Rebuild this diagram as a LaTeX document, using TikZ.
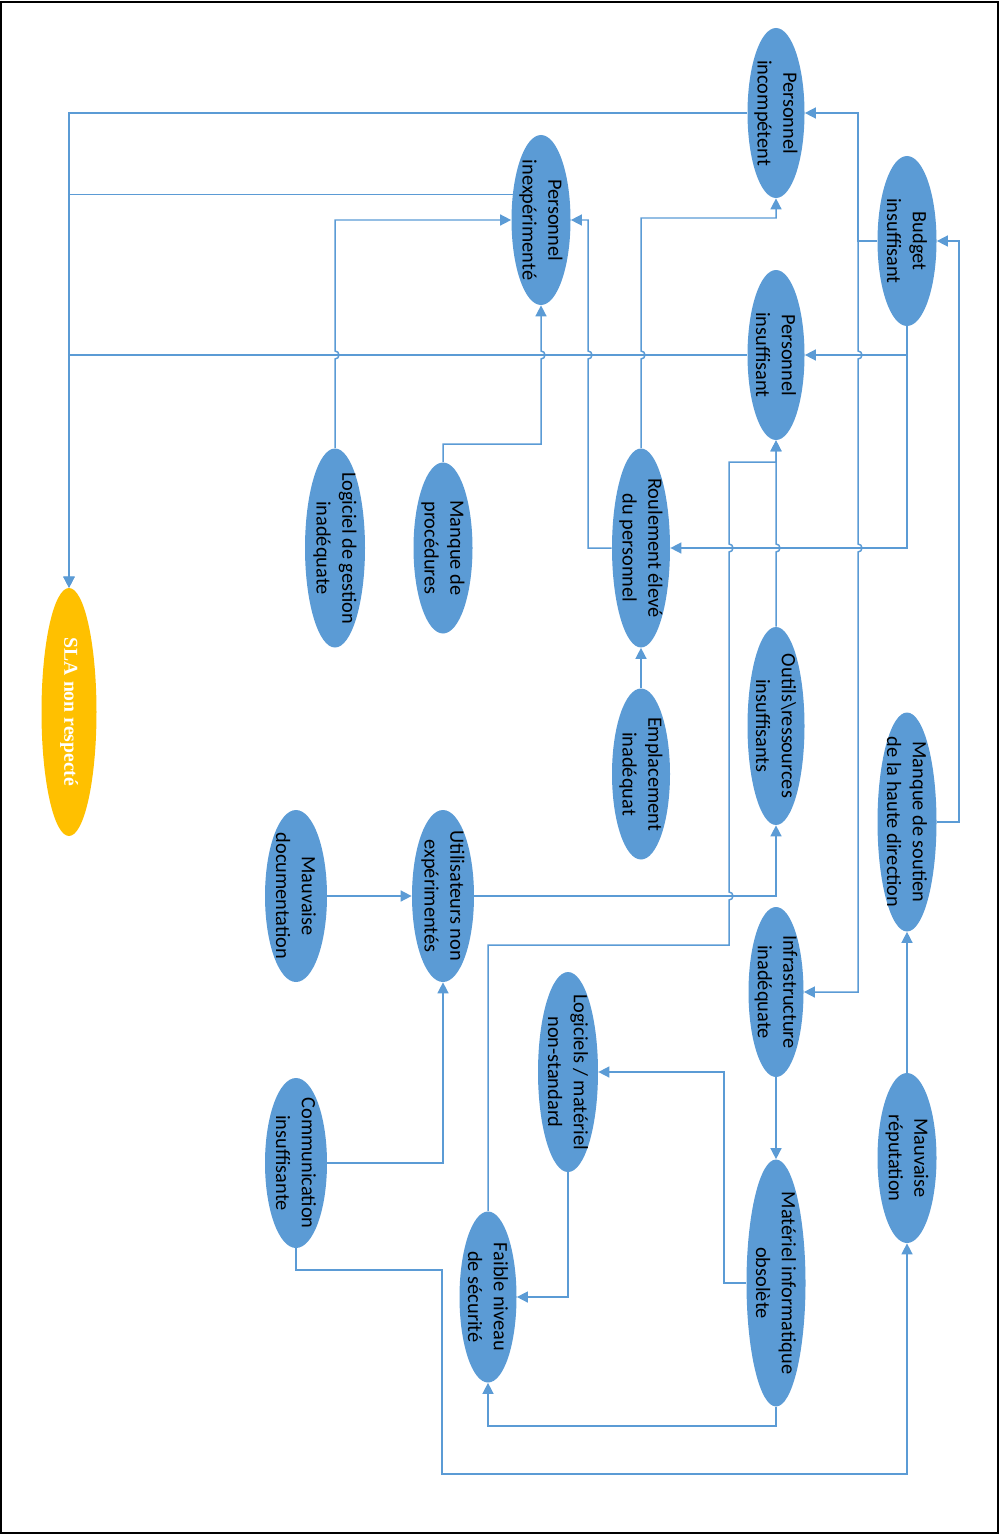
\documentclass[tikz,border=0pt]{standalone}
\usepackage{fontspec}
\setmainfont{Carlito}
\newfontfamily\slafont{Liberation Serif}
\usetikzlibrary{arrows.meta,shapes.geometric}
\definecolor{causeB}{RGB}{91,155,213}
\definecolor{slaY}{RGB}{255,192,0}
\tikzset{
  cause/.style 2 args={ellipse, fill=causeB, inner sep=0pt,
    minimum width=#1*0.2mm, minimum height=#2*0.2mm},
  lbl/.style={rotate=-90, align=center, inner sep=0pt,
    font=\fontsize{11.6}{14.6}\selectfont},
  link/.style={-{Triangle[length=2.2mm,width=2.2mm]}, draw=causeB, line width=0.85pt},
}

\begin{document}
\begin{tikzpicture}[x=0.2mm, y=-0.2mm]
  \useasboundingbox (0,0) rectangle (1000,1535);
  \draw[line width=1pt] (1,2) rectangle (998,1533);
  % causes
  \node[cause={57}{170}] (pinc) at (776,113) {};
  \node[cause={59}{170}] (pinx) at (541,220) {};
  \node[cause={59}{170}] (budg) at (907,241) {};
  \node[cause={57}{170}] (pins) at (776,355) {};
  \node[cause={55}{248}, fill=slaY] (sla) at (69,712) {};
  \node[cause={60}{199}] (logi) at (335,548) {};
  \node[cause={59}{171}] (proc) at (443,548) {};
  \node[cause={58}{199}] (roul) at (641,548) {};
  \node[cause={58}{171}] (empl) at (641,774) {};
  \node[cause={57}{198}] (outi) at (776,726) {};
  \node[cause={59}{219}] (sout) at (907,822) {};
  \node[cause={62}{172}] (util) at (443,896) {};
  \node[cause={62}{172}] (mdoc) at (296,896) {};
  \node[cause={55}{170}] (infr) at (776,992) {};
  \node[cause={60}{200}] (lnst) at (568,1072) {};
  \node[cause={62}{170}] (comm) at (296,1163) {};
  \node[cause={59}{170}] (repu) at (907,1158) {};
  \node[cause={59}{247}] (mato) at (776,1283) {};
  \node[cause={57}{171}] (faib) at (488,1297) {};
  % texts
  \node[lbl] (pinc-t) at (pinc) {Personnel\\incompétent};
  \node[lbl] (pinx-t) at (pinx) {Personnel\\inexpérimenté};
  \node[lbl] (budg-t) at (budg) {Budget\\insuffisant};
  \node[lbl] (pins-t) at (pins) {Personnel\\insuffisant};
  \node[lbl, text=white, font=\slafont\bfseries\fontsize{11.2}{13}\selectfont] (sla-t) at (sla) {SLA non respecté};
  \node[lbl] (logi-t) at (logi) {Logiciel de gestion\\inadéquate};
  \node[lbl] (proc-t) at (proc) {Manque de\\procédures};
  \node[lbl] (roul-t) at (roul) {Roulement élevé\\du personnel};
  \node[lbl] (empl-t) at (empl) {Emplacement\\inadéquat};
  \node[lbl] (outi-t) at (outi) {Outils\textbackslash ressources\\insuffisants};
  \node[lbl] (sout-t) at (sout) {Manque de soutien\\de la haute direction};
  \node[lbl] (util-t) at (util) {Utilisateurs non\\expérimentés};
  \node[lbl] (mdoc-t) at (mdoc) {Mauvaise\\documentation};
  \node[lbl] (infr-t) at (infr) {Infrastructure\\inadéquate};
  \node[lbl] (lnst-t) at (lnst) {Logiciels / matériel\\non-standard};
  \node[lbl] (comm-t) at (comm) {Communication\\insuffisante};
  \node[lbl] (repu-t) at (repu) {Mauvaise\\réputation};
  \node[lbl] (mato-t) at (mato) {Matériel informatique\\obsolète};
  \node[lbl] (faib-t) at (faib) {Faible niveau\\de sécurité};
  % into SLA
  \draw[link] (pinc.west) -| (sla.north);
  \draw[link] (pinx.138) -| (sla.north);
  \draw[link] (pins.west) -| (sla.north);
  % into personnel
  \draw[link] (logi.north) -- (335,359) arc[start angle=90, end angle=-90, radius=4] |- (pinx.west);
  \draw[link] (proc.north) |- (541,444) -- (541,359) arc[start angle=90, end angle=-90, radius=4] -- (pinx.south);
  \draw[link] (roul.west) -| (588,359) arc[start angle=90, end angle=-90, radius=4] |- (pinx.east);
  \draw[link] (roul.north) -- (641,359) arc[start angle=90, end angle=-90, radius=4] -- (641,218) -| (pinc.south);
  % budget
  \draw[link] (budg.west) -- (858,241) |- (pinc.east);
  \draw[link] (budg.west) -- (858,241) -- (858,351) arc[start angle=-90, end angle=90, radius=4]
    -- (858,544) arc[start angle=-90, end angle=90, radius=4] |- (infr.east);
  \draw[link] (budg.south) |- (pins.east);
  \draw[link] (budg.south) |- (roul.east);
  \draw[link] (sout.east) -- (959,822) |- (budg.east);
  \draw[link] (repu.north) -- (sout.south);
  % tools and users
  \draw[link] (outi.north) -- (776,552) arc[start angle=90, end angle=-90, radius=4] -- (pins.south);
  \draw[link] (faib.north) |- (729,945) -- (729,900) arc[start angle=90, end angle=-90, radius=4]
    -- (729,552) arc[start angle=90, end angle=-90, radius=4] -- (729,462) -| (pins.south);
  \draw[link] (util.east) -| (outi.south);
  \draw[link] (empl.north) -- (roul.south);
  \draw[link] (mdoc.east) -- (util.west);
  \draw[link] (comm.east) -| (util.south);
  % hardware
  \draw[link] (infr.south) -- (mato.north);
  \draw[link] (mato.west) -- (724,1283) |- (lnst.east);
  \draw[link] (lnst.south) |- (faib.east);
  \draw[link] (mato.south) -- (776,1426) -| (faib.south);
  \draw[link] (comm.south) |- (442,1270) -- (442,1474) -| (repu.south);
\end{tikzpicture}
\end{document}
